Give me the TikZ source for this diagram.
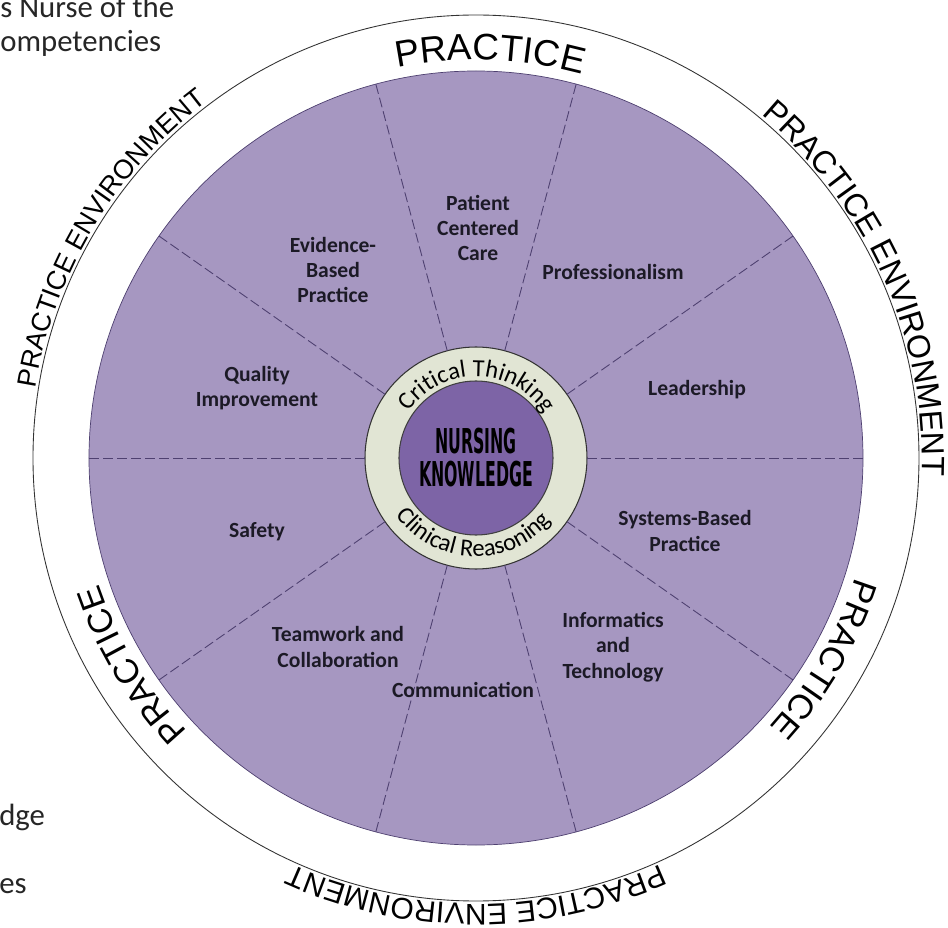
\documentclass[tikz,border=0pt]{standalone}
\usepackage{fontspec}
\setmainfont{Carlito}
\newfontfamily\bandfont{Liberation Sans}
\newfontfamily\corefont{DejaVu Sans}
\usepackage{graphicx}
\usetikzlibrary{shapes.geometric, decorations.text, positioning}
\definecolor{wheelpurple}{HTML}{A697C1}
\definecolor{corepurple}{HTML}{7D64A6}
\definecolor{ringsage}{HTML}{E1E5D4}
\definecolor{divline}{HTML}{4E4070}
\definecolor{labelink}{HTML}{1C1A26}
\tikzstyle{wheel} = [circle, minimum size=15.48cm, inner sep=0pt, outer sep=0pt, draw=divline, fill=wheelpurple, line width=0.4pt]
\tikzstyle{ring} = [circle, minimum size=4.44cm, inner sep=0pt, outer sep=0pt, draw=black!80, fill=ringsage, line width=0.6pt]
\tikzstyle{core} = [circle, minimum size=3.08cm, inner sep=0pt, outer sep=0pt, draw=black!75, fill=corepurple, line width=0.6pt, align=center, text=black, font=\corefont\bfseries\fontsize{19.5}{18.8}\selectfont]
\tikzstyle{boundary} = [circle, minimum size=17.72cm, inner sep=0pt, draw=black!80, line width=0.5pt]
\tikzstyle{competency} = [align=center, inner sep=0pt, text=labelink, font=\bfseries\fontsize{12.3}{14.5}\selectfont]
\tikzstyle{divider} = [draw=divline, line width=0.5pt, dash pattern=on 0.2cm off 0.08cm]
\tikzstyle{arctext} = [decorate, decoration={text along path, text align=center}]
\tikzstyle{pagetext} = [anchor=base west, inner sep=0pt, text=black!85, font=\fontsize{17.5}{19}\selectfont]

\begin{document}
\begin{tikzpicture}
    \path[use as bounding box, fill=white] (-9.52,-9.40) rectangle (9.44,9.16);

    % Page text cut off at the left
    \node[pagetext] (title1) at (-9.52, 8.80) {s Nurse of the};
    \node[pagetext] (title2) at (-9.52, 8.12) {ompetencies};
    \node[pagetext] (side1) at (-9.54, -7.34) {dge};
    \node[pagetext] (side2) at (-9.54, -8.70) {es};

    % Circles
    \node[boundary] (boundary) at (0,0) {};
    \node[wheel] (wheel) at (0,0) {};
    \node[ring] (ring) at (0,0) {};
    \node[core] (core) at (0,0) {\scalebox{0.46}[1]{NURSING}\\\scalebox{0.46}[1]{KNOWLEDGE}};

    % Sector lines
    \draw[divider] (ring.0) -- (wheel.0);
    \draw[divider] (ring.35) -- (wheel.35);
    \draw[divider] (ring.75) -- (wheel.75);
    \draw[divider] (ring.105) -- (wheel.105);
    \draw[divider] (ring.145) -- (wheel.145);
    \draw[divider] (ring.180) -- (wheel.180);
    \draw[divider] (ring.215) -- (wheel.215);
    \draw[divider] (ring.255) -- (wheel.255);
    \draw[divider] (ring.285) -- (wheel.285);
    \draw[divider] (ring.325) -- (wheel.325);

    % Competencies
    \node[competency] (care) at (0.04, 4.60) {Patient\\Centered\\Care};
    \node[competency] (professionalism) at (2.74, 3.72) {Professionalism};
    \node[competency] (leadership) at (4.42, 1.36) {Leadership};
    \node[competency] (systems) at (4.18, -1.46) {Systems-Based\\Practice};
    \node[competency] (informatics) at (2.74, -3.78) {Informatics\\and\\Technology};
    \node[competency] (communication) at (-0.26, -4.64) {Communication};
    \node[competency] (teamwork) at (-2.76, -3.78) {Teamwork and\\Collaboration};
    \node[competency] (safety) at (-4.38, -1.48) {Safety};
    \node[competency] (quality) at (-4.38, 1.40) {Quality\\Improvement};
    \node[competency] (evidence) at (-2.86, 3.76) {Evidence-\\Based\\Practice};

    % Ring texts
    \path[arctext, decoration={text={|\fontsize{14}{14}\selectfont|Critical Thinking}}] (179:1.63) arc[start angle=179, end angle=-1, radius=1.63];
    \path[arctext, decoration={text={|\fontsize{14}{14}\selectfont|Clinical Reasoning}}] (178:1.97) arc[start angle=178, end angle=358, radius=1.97];

    % Practice band
    \path[arctext, decoration={text={|\bandfont\fontsize{21}{21}\selectfont|PRACTICE}}] (138:7.96) arc[start angle=138, end angle=38, radius=7.96];
    \path[arctext, decoration={text={|\bandfont\fontsize{19.5}{19.5}\selectfont|PRACTICE}}] (20:7.96) arc[start angle=20, end angle=-80, radius=7.96];
    \path[arctext, decoration={text={|\bandfont\fontsize{19.5}{19.5}\selectfont|PRACTICE}}] (261:7.96) arc[start angle=261, end angle=161, radius=7.96];

    % Practice environment
    \path[arctext, decoration={text={|\bandfont\fontsize{15.3}{15.3}\selectfont|PRACTICE ENVIRONMENT}}] (199:8.92) arc[start angle=199, end angle=99, radius=8.92];
    \path[arctext, decoration={text={|\bandfont\fontsize{18.3}{18.3}\selectfont|PRACTICE ENVIRONMENT}}] (74:8.92) arc[start angle=74, end angle=-26, radius=8.92];
    \path[arctext, decoration={text={|\bandfont\fontsize{17}{17}\selectfont|PRACTICE ENVIRONMENT}}] (-40:8.92) arc[start angle=-40, end angle=-140, radius=8.92];
\end{tikzpicture}
\end{document}
